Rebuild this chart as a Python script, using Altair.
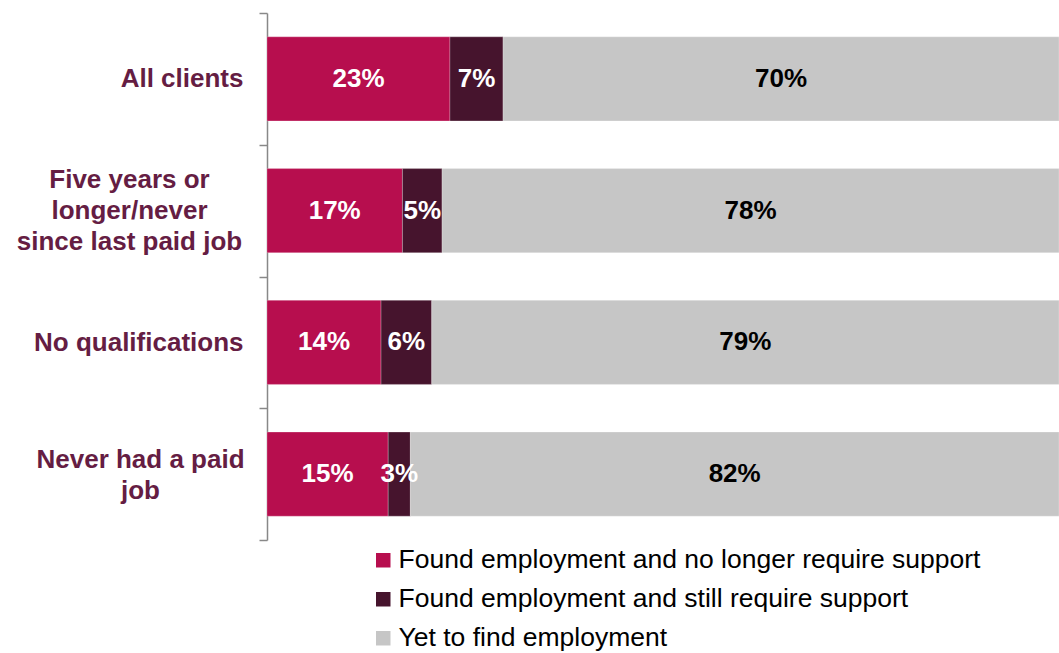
import altair as alt
import pandas as pd

categories = [
    "All clients",
    "Five years or|longer/never|since last paid job",
    "No qualifications",
    "Never had a paid|job",
]
series = [
    "Found employment and no longer require support",
    "Found employment and still require support",
    "Yet to find employment",
]
found_no_support = [23.1, 17.1, 14.4, 15.3]
found_still_support = [6.7, 5.0, 6.4, 2.8]
yet_to_find = [70.2, 77.9, 79.2, 81.9]
colors = ["#B70E4E", "#46142D", "#C6C6C6"]
label_colors = ["#FFFFFF", "#FFFFFF", "#000000"]

rows = []
for i, cat in enumerate(categories):
    for j, (s, vals) in enumerate(zip(series, [found_no_support, found_still_support, yet_to_find])):
        rows.append({"category": cat, "series": s, "order": j, "value": vals[i]})
df = pd.DataFrame(rows)

base = alt.Chart(df).transform_stack(
    stack="value", groupby=["category"], sort=[alt.SortField("order")], as_=["x0", "x1"]
).transform_calculate(
    mid="(datum.x0 + datum.x1) / 2",
    label="format(round(datum.value), 'd') + '%'",
)

three_line = f"datum.value === '{categories[1]}'"
two_line = f"datum.value === '{categories[3]}'"

y_enc = alt.Y(
    "category:N",
    sort=categories,
    title=None,
    scale=alt.Scale(paddingInner=0, paddingOuter=0),
    axis=alt.Axis(
        labelExpr="split(datum.label, '|')",
        labelFont="Liberation Sans",
        labelFontSize=26,
        labelFontWeight="bold",
        labelColor="#651D43",
        labelLineHeight=31,
        labelPadding={"condition": [{"test": three_line, "value": 130},
                                    {"test": two_line, "value": 119}], "value": 16},
        labelAlign={"condition": {"test": f"{three_line} || {two_line}", "value": "center"},
                    "value": "right"},
        labelOffset={"condition": [{"test": three_line, "value": -31},
                                   {"test": two_line, "value": -15}], "value": 0},
        labelLimit=400,
        tickBand="extent",
        tickSize=8,
        tickColor="#888888",
        tickWidth=1.5,
        domainColor="#888888",
        domainWidth=1.5,
        grid=False,
    ),
)

bars = base.mark_bar(
    height=alt.RelativeBandSize(0.638), stroke="#FFFFFF", strokeWidth=0.4, strokeOpacity=0.6
).encode(
    x=alt.X("x0:Q", scale=alt.Scale(domain=[0, 100], nice=False, zero=True), axis=None),
    x2="x1:Q",
    y=y_enc,
    color=alt.Color(
        "series:N",
        sort=series,
        scale=alt.Scale(domain=series, range=colors),
        legend=alt.Legend(
            title=None,
            orient="none",
            legendX=103,
            legendY=534,
            direction="vertical",
            symbolType="square",
            symbolSize=210,
            symbolStrokeWidth=0,
            labelFont="Liberation Sans",
            labelFontSize=26.5,
            labelColor="#000000",
            labelOffset=2,
            rowPadding=12,
            padding=0,
            labelLimit=800,
        ),
    ),
    order=alt.Order("order:Q"),
)

texts = base.mark_text(
    font="Liberation Sans", fontSize=26, fontWeight="bold", baseline="middle", align="center"
).encode(
    x=alt.X("mid:Q"),
    y=alt.Y("category:N", sort=categories),
    text="label:N",
    color=alt.Color("series:N", scale=alt.Scale(domain=series, range=label_colors), legend=None),
)

chart = alt.layer(bars, texts).resolve_scale(color="independent").properties(
    width=792,
    height=527,
    autosize=alt.AutoSizeParams(type="none"),
    padding={"left": 267, "top": 13, "right": 0, "bottom": 113},
).configure_view(stroke=None)

chart.save("out.html", embed_options={"renderer": "svg", "actions": False})
